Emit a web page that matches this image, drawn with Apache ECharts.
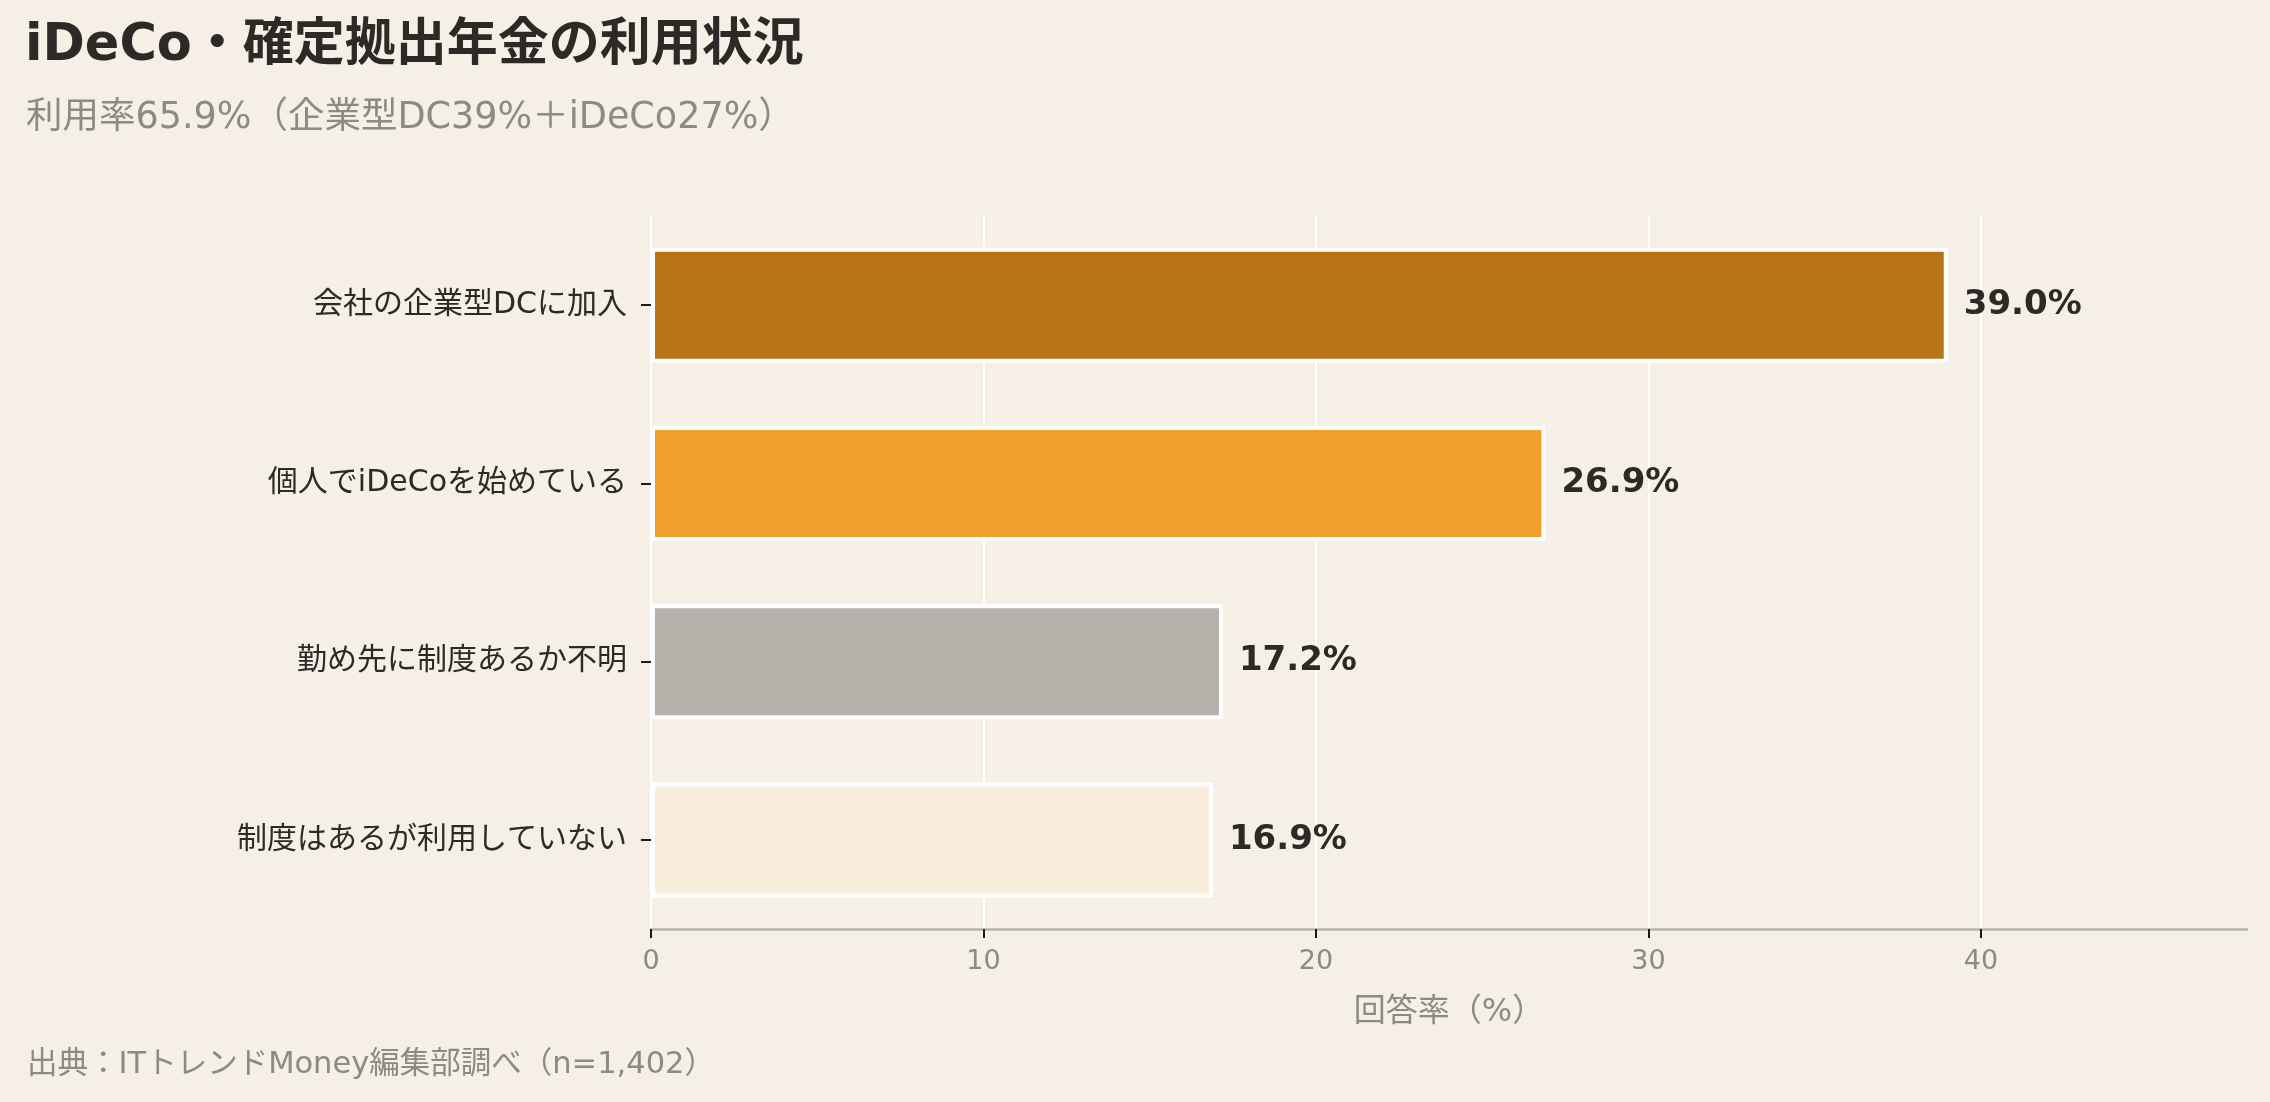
<!DOCTYPE html>
<html>
<head>
<meta charset="utf-8">
<script src="https://cdn.jsdelivr.net/npm/echarts@6/dist/echarts.min.js"></script>
<style>
html,body{margin:0;padding:0;background:#f5efe6;}
#chart{width:2270px;height:1102px;}
</style>
</head>
<body>
<div id="chart"></div>
<script>
const categories = ['会社の企業型DCに加入', '個人でiDeCoを始めている', '勤め先に制度あるか不明', '制度はあるが利用していない'];
const values = [39.0, 26.9, 17.2, 16.9];
const barColors = ['#b97418', '#ef9f2a', '#b4b1aa', '#f8ecdb'];
const xTicks = [0, 10, 20, 30, 40];
const titleText = 'iDeCo・確定拠出年金の利用状況';
const subtitleText = '利用率65.9%（企業型DC39%＋iDeCo27%）';
const sourceText = '出典：ITトレンドMoney編集部調べ（n=1,402）';
const xAxisName = '回答率（%）';

const FONT = '"DejaVu Sans", "Noto Sans CJK JP", sans-serif';
const chart = echarts.init(document.getElementById('chart'), null, {renderer: 'canvas'});
chart.setOption({
  backgroundColor: '#f5efe6',
  animation: false,
  title: [
    {text: titleText, left: 20, top: 16, textStyle: {fontFamily: FONT, fontSize: 51, fontWeight: 'bold', color: '#2b2a27'}},
    {text: subtitleText, left: 21, top: 95, textStyle: {fontFamily: FONT, fontSize: 36.5, fontWeight: 'normal', color: '#8c8a83'}},
    {text: sourceText, left: 22, top: 1045, textStyle: {fontFamily: FONT, fontSize: 30.5, fontWeight: 'normal', color: '#8c8a83'}}
  ],
  grid: {left: 651, right: 23, top: 216, bottom: 173, containLabel: false},
  xAxis: {
    type: 'value', min: 0, max: 48, interval: 10,
    name: xAxisName, nameLocation: 'middle', nameGap: 68,
    nameTextStyle: {fontFamily: FONT, fontSize: 32, color: '#8c8a83'},
    axisLine: {show: true, lineStyle: {color: '#b8b5ad', width: 2.5}},
    axisTick: {show: true, length: 9, lineStyle: {color: '#1a1a1a', width: 2}, customValues: xTicks},
    axisLabel: {fontFamily: FONT, fontSize: 27, color: '#8c8a83', margin: 19, customValues: xTicks},
    splitLine: {show: true, lineStyle: {color: ['#ffffff', '#ffffff', '#ffffff', '#ffffff', '#ffffff', 'rgba(0,0,0,0)'], width: 2}}
  },
  yAxis: {
    type: 'category', data: categories, inverse: true,
    axisLine: {show: false},
    axisTick: {show: true, alignWithLabel: true, length: 10, inside: false, lineStyle: {color: '#1a1a1a', width: 2}},
    axisLabel: {fontFamily: FONT, fontSize: 30, color: '#2b2a27', margin: 24},
    splitLine: {show: false}
  },
  series: [{
    type: 'bar',
    data: values.map((v, i) => ({value: v, itemStyle: {color: barColors[i]}})),
    barWidth: 115,
    itemStyle: {borderColor: '#ffffff', borderWidth: 4},
    label: {
      show: true, position: 'right', distance: 16,
      formatter: p => p.value.toFixed(1) + '%',
      fontFamily: '"DejaVu Sans", sans-serif', fontSize: 34, fontWeight: 'bold', color: '#2b2a27'
    }
  }]
});
</script>
</body>
</html>
